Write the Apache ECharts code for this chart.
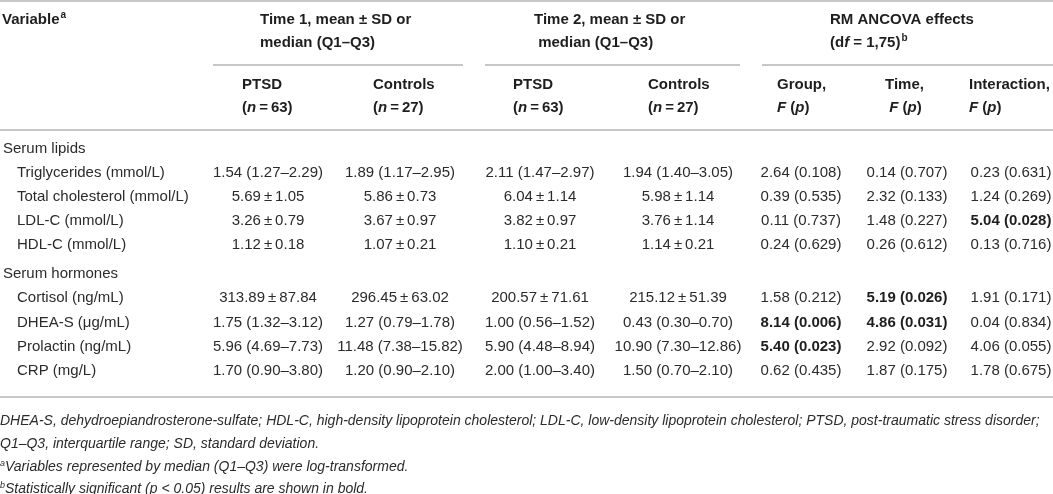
<!DOCTYPE html>
<html>
<head>
<meta charset="utf-8">
<script src="https://cdn.jsdelivr.net/npm/echarts@6/dist/echarts.min.js"></script>
<style>
  html, body { margin: 0; padding: 0; background: #fff; }
  #main { width: 1053px; height: 494px; }
</style>
</head>
<body>
<div id="main"></div>
<script type="text/javascript">
    // table data
    var sections = ['Serum lipids', 'Serum hormones'];
    var variables = ['Triglycerides (mmol/L)', 'Total cholesterol (mmol/L)', 'LDL-C (mmol/L)', 'HDL-C (mmol/L)',
        'Cortisol (ng/mL)', 'DHEA-S (\u03bcg/mL)', 'Prolactin (ng/mL)', 'CRP (mg/L)'];
    var variableSection = [0, 0, 0, 0, 1, 1, 1, 1];
    var time1Ptsd = ['1.54 (1.27\u20132.29)', '5.69 \u00b1 1.05', '3.26 \u00b1 0.79', '1.12 \u00b1 0.18',
        '313.89 \u00b1 87.84', '1.75 (1.32\u20133.12)', '5.96 (4.69\u20137.73)', '1.70 (0.90\u20133.80)'];
    var time1Controls = ['1.89 (1.17\u20132.95)', '5.86 \u00b1 0.73', '3.67 \u00b1 0.97', '1.07 \u00b1 0.21',
        '296.45 \u00b1 63.02', '1.27 (0.79\u20131.78)', '11.48 (7.38\u201315.82)', '1.20 (0.90\u20132.10)'];
    var time2Ptsd = ['2.11 (1.47\u20132.97)', '6.04 \u00b1 1.14', '3.82 \u00b1 0.97', '1.10 \u00b1 0.21',
        '200.57 \u00b1 71.61', '1.00 (0.56\u20131.52)', '5.90 (4.48\u20138.94)', '2.00 (1.00\u20133.40)'];
    var time2Controls = ['1.94 (1.40\u20133.05)', '5.98 \u00b1 1.14', '3.76 \u00b1 1.14', '1.14 \u00b1 0.21',
        '215.12 \u00b1 51.39', '0.43 (0.30\u20130.70)', '10.90 (7.30\u201312.86)', '1.50 (0.70\u20132.10)'];
    var groupF = ['2.64 (0.108)', '0.39 (0.535)', '0.11 (0.737)', '0.24 (0.629)',
        '1.58 (0.212)', '8.14 (0.006)', '5.40 (0.023)', '0.62 (0.435)'];
    var timeF = ['0.14 (0.707)', '2.32 (0.133)', '1.48 (0.227)', '0.26 (0.612)',
        '5.19 (0.026)', '4.86 (0.031)', '2.92 (0.092)', '1.87 (0.175)'];
    var interactionF = ['0.23 (0.631)', '1.24 (0.269)', '5.04 (0.028)', '0.13 (0.716)',
        '1.91 (0.171)', '0.04 (0.834)', '4.06 (0.055)', '1.78 (0.675)'];
    var footnotes = [
        'DHEA-S, dehydroepiandrosterone-sulfate; HDL-C, high-density lipoprotein cholesterol; LDL-C, low-density lipoprotein cholesterol; PTSD, post-traumatic stress disorder;',
        'Q1\u2013Q3, interquartile range; SD, standard deviation.',
        '{sup|a}Variables represented by median (Q1\u2013Q3) were log-transformed.',
        '{sup|b}Statistically significant ({i|p} < 0.05) results are shown in bold.'
    ];

    // layout
    var FONT = 'Liberation Sans, Arial, sans-serif';
    var INK = '#1e1e1e';
    var BODY_INK = '#2b2b2b';
    var RULE = '#b4b4b4';
    var colCenters = [268, 400, 540, 678, 801, 907, 1011];
    var subLefts = [242, 373, 513, 648, 777, 885, 969];
    var sectionY = [149, 274];
    var rowY = [173, 197, 221, 245, 298, 323, 347, 371];
    var footY = [421, 444, 467, 489];

    var richHead = {
        b: { fontFamily: FONT, fontSize: 15, fontWeight: 'bold', fill: INK, lineHeight: 23 },
        i: { fontFamily: FONT, fontSize: 15, fontWeight: 'bold', fontStyle: 'italic', fill: INK, lineHeight: 23 },
        sup: { fontFamily: FONT, fontSize: 10, fontWeight: 'bold', fill: INK, lineHeight: 23, verticalAlign: 'top', padding: [2, 0, 0, 1] }
    };

    function txt(x, y, text, opts) {
        opts = opts || {};
        return {
            type: 'text', x: x, y: y, silent: true,
            style: {
                text: text,
                fontFamily: FONT,
                fontSize: opts.size || 15,
                fontWeight: opts.bold ? 'bold' : 'normal',
                fontStyle: opts.italic ? 'italic' : 'normal',
                fill: opts.color || INK,
                align: opts.align || 'left',
                verticalAlign: opts.valign || 'middle',
                lineHeight: opts.lineHeight || 23,
                rich: opts.rich
            }
        };
    }
    function rule(x1, x2, y) {
        return { type: 'line', silent: true, shape: { x1: x1, y1: y, x2: x2, y2: y }, style: { stroke: RULE, lineWidth: 1.5 } };
    }
    function fmt(s) {
        return s.replace(' \u00b1 ', '\u2009\u00b1\u2009');
    }
    function isSig(s) {
        var m = s.match(/\(([\d.]+)\)/);
        return m && parseFloat(m[1]) < 0.05;
    }

    var els = [];
    // rules
    els.push(rule(0, 1053, 1));
    els.push(rule(213, 463, 65));
    els.push(rule(485, 740, 65));
    els.push(rule(762, 1053, 65));
    els.push(rule(0, 1053, 130));
    els.push(rule(0, 1053, 397));

    // header
    els.push(txt(2, 20, '{b|Variable}{sup|a}', { rich: richHead }));
    els.push(txt(260, 8.5, 'Time 1, mean \u00b1 SD or\nmedian (Q1\u2013Q3)', { bold: true, valign: 'top' }));
    els.push(txt(534, 8.5, 'Time 2, mean \u00b1 SD or\n median (Q1\u2013Q3)', { bold: true, valign: 'top' }));
    els.push(txt(830, 8.5, '{b|RM ANCOVA effects}\n{b|(d}{i|f}{b| = 1,75)}{sup|b}', { valign: 'top', rich: richHead }));

    var subHeads = [
        '{b|PTSD}\n{b|(}{i|n}{b|\u2009=\u200963)}',
        '{b|Controls}\n{b|(}{i|n}{b|\u2009=\u200927)}',
        '{b|PTSD}\n{b|(}{i|n}{b|\u2009=\u200963)}',
        '{b|Controls}\n{b|(}{i|n}{b|\u2009=\u200927)}',
        '{b|Group,}\n{i|F}{b| (}{i|p}{b|)}',
        '{b|Time,}\n{b| }{i|F}{b| (}{i|p}{b|)}',
        '{b|Interaction,}\n{i|F}{b| (}{i|p}{b|)}'
    ];
    for (var c = 0; c < subHeads.length; c++) {
        els.push(txt(subLefts[c], 73.5, subHeads[c], { valign: 'top', rich: richHead }));
    }

    // body
    for (var s = 0; s < sections.length; s++) {
        els.push(txt(3, sectionY[s], sections[s], { color: BODY_INK }));
    }
    var columns = [time1Ptsd, time1Controls, time2Ptsd, time2Controls, groupF, timeF, interactionF];
    for (var r = 0; r < variables.length; r++) {
        els.push(txt(17, rowY[r], variables[r], { color: BODY_INK }));
        for (var k = 0; k < columns.length; k++) {
            var v = columns[k][r];
            var sig = k >= 4 && isSig(v);
            els.push(txt(colCenters[k], rowY[r], fmt(v), { align: 'center', bold: sig, color: sig ? INK : BODY_INK }));
        }
    }

    // footnotes
    var richFoot = {
        sup: { fontFamily: FONT, fontSize: 9, fontStyle: 'italic', fill: BODY_INK, verticalAlign: 'top', lineHeight: 17 },
        i: { fontFamily: FONT, fontSize: 14, fontStyle: 'italic', fill: BODY_INK, lineHeight: 17 }
    };
    for (var f = 0; f < footnotes.length; f++) {
        els.push(txt(0, footY[f], footnotes[f], { size: 14, italic: true, lineHeight: 17, rich: richFoot, color: BODY_INK }));
    }

    var myChart = echarts.init(document.getElementById('main'), null, { renderer: 'canvas' });
    myChart.setOption({
        backgroundColor: '#fff',
        animation: false,
        graphic: { elements: els }
    });
</script>
</body>
</html>
